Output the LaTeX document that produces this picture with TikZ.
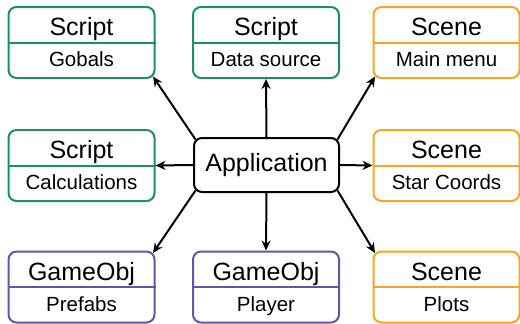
\documentclass[tikz,border=0pt]{standalone}
\usepackage{fontspec}
\setmainfont{Liberation Sans}
\usetikzlibrary{arrows.meta,calc}
\definecolor{cgreen}{HTML}{1E8F62}
\definecolor{corange}{HTML}{F5A623}
\definecolor{cpurple}{HTML}{6654A8}
\tikzset{
  umlbox/.style={draw=#1, line width=2pt, rounded corners=8pt, minimum width=146pt, minimum height=71pt, inner sep=0pt},
  divider/.style={draw=#1, line width=2pt},
  headtxt/.style={anchor=base, font=\fontsize{25}{30}\selectfont, inner sep=0pt},
  bodytxt/.style={anchor=base, font=\fontsize{20.5}{24}\selectfont, inner sep=0pt},
  appbox/.style={draw=black, line width=2pt, rounded corners=8pt, minimum width=145pt, minimum height=54pt, inner sep=0pt},
  conn/.style={draw=black, line width=2pt, -{Stealth[length=10pt,width=9pt]}}
}
\newcommand{\umlnode}[6]{%
  \node[umlbox=#4] (#1) at (#2,#3) {};
  \draw[divider=#4] (#1.west) -- (#1.east);
  \node[headtxt] (#1h) at ($(#1.center)+(0,-7)$) {#5};
  \node[bodytxt] (#1b) at ($(#1.center)+(0,24)$) {#6};
}
\begin{document}
\begin{tikzpicture}[x=1pt,y=-1pt]
\useasboundingbox (0,0) rectangle (520,324);
\umlnode{gob}{81.5}{42.5}{cgreen}{Script}{Gobals}
\umlnode{dat}{266}{42.5}{cgreen}{Script}{Data source}
\umlnode{men}{446.5}{42.5}{corange}{Scene}{Main menu}
\umlnode{cal}{81.5}{165.5}{cgreen}{Script}{Calculations}
\umlnode{sta}{446.5}{165.5}{corange}{Scene}{Star Coords}
\umlnode{pre}{81.5}{287}{cpurple}{GameObj}{Prefabs}
\umlnode{pla}{266}{287}{cpurple}{GameObj}{Player}
\umlnode{plo}{446.5}{287}{corange}{Scene}{Plots}
\node[appbox] (app) at (266.5,165) {};
\node[headtxt] (apptxt) at ($(app.center)+(0,6)$) {Application};
\coordinate (anw) at ([shift={(2.5pt,-2.5pt)}]app.north west);
\coordinate (ane) at ([shift={(-2.5pt,-2.5pt)}]app.north east);
\coordinate (asw) at ([shift={(2.5pt,2.5pt)}]app.south west);
\coordinate (ase) at ([shift={(-2.5pt,2.5pt)}]app.south east);
\coordinate (gobc) at ([shift={(-2.5pt,2.5pt)}]gob.south east);
\coordinate (menc) at ([shift={(2.5pt,2.5pt)}]men.south west);
\coordinate (prec) at ([shift={(-2.5pt,-2.5pt)}]pre.north east);
\coordinate (ploc) at ([shift={(2.5pt,-2.5pt)}]plo.north west);
\draw[conn] (app.north) -- (dat.south);
\draw[conn] (app.south) -- (pla.north);
\draw[conn] (app.west) -- (cal.east);
\draw[conn] (app.east) -- (sta.west);
\draw[conn] (anw) -- (gobc);
\draw[conn] (ane) -- (menc);
\draw[conn] (asw) -- (prec);
\draw[conn] (ase) -- (ploc);
\end{tikzpicture}
\end{document}
